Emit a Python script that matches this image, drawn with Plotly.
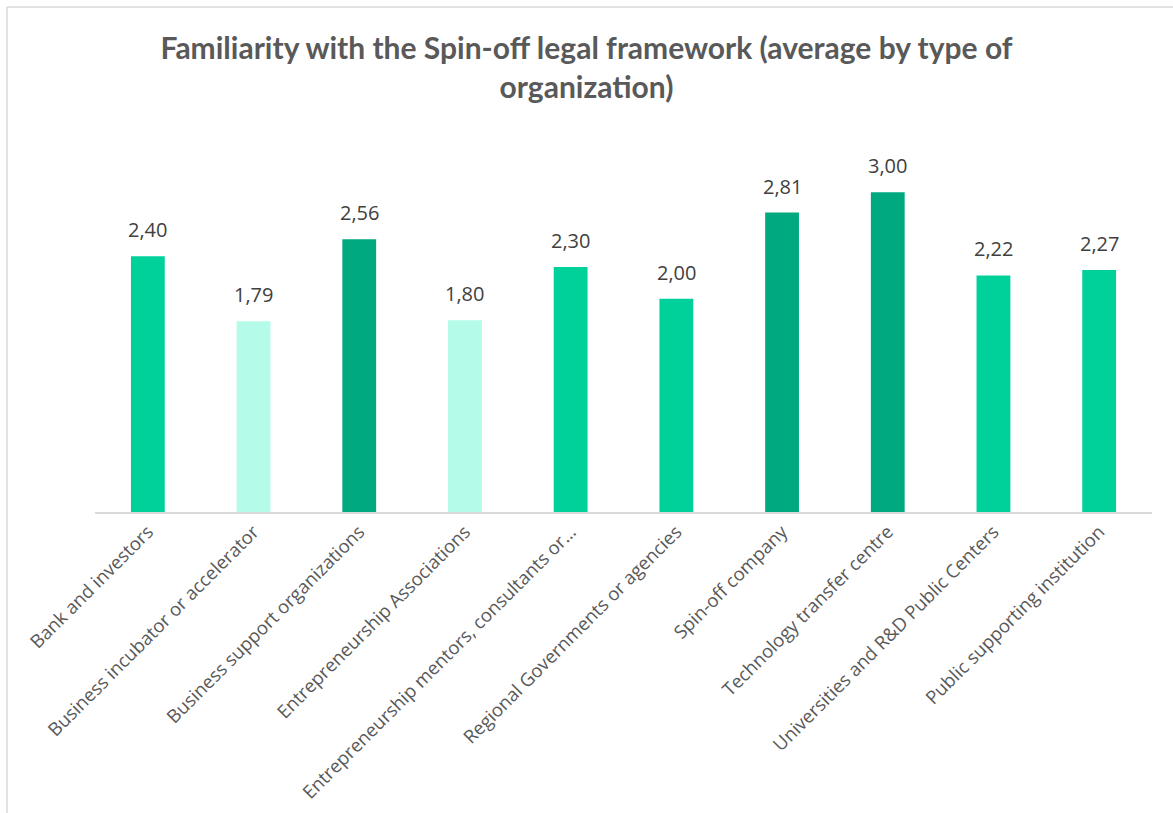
import plotly.graph_objects as go

categories = [
    "Bank and investors",
    "Business incubator or accelerator",
    "Business support organizations",
    "Entrepreneurship Associations",
    "Entrepreneurship mentors, consultants or…",
    "Regional Governments or agencies",
    "Spin-off company",
    "Technology transfer centre",
    "Universities and R&D Public Centers",
    "Public supporting institution",
]
values = [2.40, 1.79, 2.56, 1.80, 2.30, 2.00, 2.81, 3.00, 2.22, 2.27]
bar_colors = ["#00D19B", "#B5FBE9", "#00A97F", "#B5FBE9", "#00D19B",
              "#00D19B", "#00A97F", "#00A97F", "#00D19B", "#00D19B"]

W, H = 1173, 813
ml, mr, mt, mb = 95, 21, 139, 301
pw, ph = W - ml - mr, H - mt - mb


def px_to_paper_x(px):
    return (px - ml) / pw


def px_to_paper_y(py):
    return (H - mb - py) / ph


fig = go.Figure(go.Bar(
    x=categories,
    y=values,
    marker=dict(color=bar_colors, line=dict(width=0)),
    hoverinfo="x+y",
))

annotations = [
    dict(x=c, y=v, xref="x", yref="y", text=f"{v:.2f}".replace(".", ","),
         showarrow=False, yanchor="bottom", yshift=11,
         font=dict(family="Open Sans, sans-serif", size=20, color="#404040"))
    for c, v in zip(categories, values)
]

fig.update_layout(
    width=W, height=H,
    margin=dict(l=ml, r=mr, t=mt, b=mb, autoexpand=False),
    paper_bgcolor="white",
    plot_bgcolor="white",
    separators=",.",
    bargap=0.68,
    showlegend=False,
    annotations=annotations,
    title=dict(
        text="<b>Familiarity with the Spin-off legal framework (average by type of<br>organization)</b>",
        x=0.5, xanchor="center",
        y=1 - 59 / H, yanchor="middle",
        font=dict(family="Lato, Open Sans, sans-serif", size=30, color="#595959"),
    ),
    xaxis=dict(
        tickangle=-45,
        tickfont=dict(family="Open Sans, sans-serif", size=18.5, color="#595959"),
        showline=True, linecolor="#D9D9D9", linewidth=1.5,
        ticks="", showgrid=False, automargin=False,
    ),
    yaxis=dict(
        range=[0, 3.5],
        visible=False,
        showgrid=False,
        zeroline=False,
        automargin=False,
    ),
    shapes=[
        dict(type="line", xref="paper", yref="paper",
             x0=px_to_paper_x(7), x1=px_to_paper_x(W + 5),
             y0=px_to_paper_y(7), y1=px_to_paper_y(7),
             line=dict(color="#D9D9D9", width=1.5)),
        dict(type="line", xref="paper", yref="paper",
             x0=px_to_paper_x(7), x1=px_to_paper_x(7),
             y0=px_to_paper_y(7), y1=px_to_paper_y(H + 5),
             line=dict(color="#D9D9D9", width=1.5)),
    ],
)

fig.write_html("out.html")
